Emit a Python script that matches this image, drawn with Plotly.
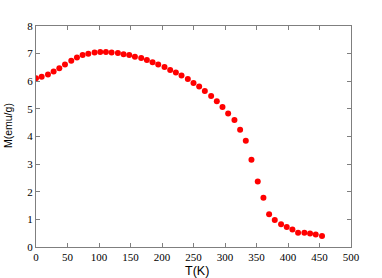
import plotly.graph_objects as go

T = [0, 9, 19, 28, 37, 46, 56, 65, 74, 83, 93, 102, 111, 120, 130, 139, 148, 157,
     167, 176, 185, 194, 204, 213, 222, 231, 241, 250, 259, 268, 278, 287, 296, 305,
     315, 324, 333, 342, 352, 361, 370, 379, 389, 398, 407, 416, 426, 435, 444, 454]
M = [6.11, 6.16, 6.24, 6.35, 6.47, 6.61, 6.74, 6.86, 6.95, 7.00, 7.04, 7.06, 7.06,
     7.04, 7.02, 6.98, 6.95, 6.89, 6.84, 6.77, 6.69, 6.61, 6.52, 6.41, 6.32, 6.21,
     6.08, 5.94, 5.81, 5.65, 5.47, 5.28, 5.07, 4.83, 4.60, 4.24, 3.85, 3.16, 2.37,
     1.78, 1.19, 0.98, 0.82, 0.72, 0.63, 0.52, 0.52, 0.49, 0.45, 0.40]

x_ticks = [0, 50, 100, 150, 200, 250, 300, 350, 400, 450, 500]
y_ticks = [0, 1, 2, 3, 4, 5, 6, 7, 8]

fig = go.Figure(go.Scatter(
    x=T, y=M, mode="markers",
    marker=dict(color="#ff0000", size=6, line=dict(width=0)),
))

axis_common = dict(
    showgrid=False, zeroline=False, showline=True, linecolor="#7f7f7f", linewidth=1,
    mirror="ticks", ticks="inside", ticklen=4, tickcolor="#7f7f7f", tickwidth=1,
    tickfont=dict(family="Liberation Serif", size=11, color="#000000"),
    automargin=False,
)

fig.update_layout(
    width=382, height=278,
    margin=dict(l=36, r=31, t=26, b=31),
    paper_bgcolor="white", plot_bgcolor="white",
    showlegend=False,
    xaxis=dict(range=[0, 500], tickvals=x_ticks, ticktext=[str(v) for v in x_ticks],
               **axis_common),
    yaxis=dict(range=[0, 8], tickvals=y_ticks, ticktext=[str(v) for v in y_ticks],
               **axis_common),
    annotations=[
        dict(text="T(K)", xref="paper", yref="paper", x=0.511, y=-0.108,
             xanchor="center", yanchor="middle", showarrow=False,
             font=dict(family="Liberation Sans", size=12.5, color="#000")),
        dict(text="M(emu/g)", xref="paper", yref="paper", x=-0.087, y=0.55,
             xanchor="center", yanchor="middle", showarrow=False, textangle=-90,
             font=dict(family="Liberation Sans", size=10.5, color="#000")),
    ],
)

fig.write_html("out.html", config={"displayModeBar": False},
               post_script="document.body.style.margin='0';document.body.style.overflow='hidden';")
